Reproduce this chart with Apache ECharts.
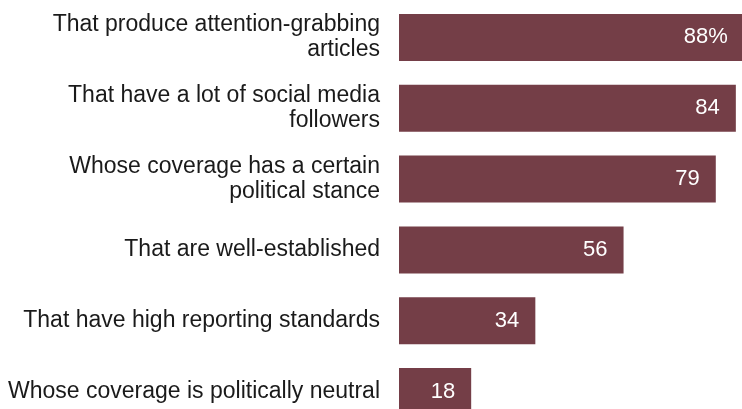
<!DOCTYPE html>
<html>
<head>
<meta charset="utf-8">
<script src="https://cdn.jsdelivr.net/npm/echarts@6/dist/echarts.min.js"></script>
<style>html,body{margin:0;padding:0;background:#fff}#c{width:742px;height:409px}</style>
</head>
<body>
<div id="c"></div>
<script>
const categories = [
  "That produce attention-grabbing\narticles",
  "That have a lot of social media\nfollowers",
  "Whose coverage has a certain\npolitical stance",
  "That are well-established",
  "That have high reporting standards",
  "Whose coverage is politically neutral"
];
const values = [88, 84, 79, 56, 34, 18];
const valueLabels = ["88%", "84", "79", "56", "34", "18"];

const chart = echarts.init(document.getElementById('c'));
chart.setOption({
  animation: false,
  grid: { left: 399, width: 401, top: 2, height: 425, containLabel: false, outerBoundsMode: 'none' },
  xAxis: { type: 'value', min: 0, max: 100, show: false },
  yAxis: {
    type: 'category', data: categories, inverse: true,
    axisLine: { show: false }, axisTick: { show: false },
    axisLabel: { margin: 19, color: '#1a1a1a', fontSize: 23, lineHeight: 25,
      fontFamily: 'Liberation Sans, Arial, sans-serif', align: 'right' }
  },
  series: [{
    type: 'bar',
    data: values.map((v, i) => i === 0 ? { value: v, label: { offset: [-8, 0] } } : v),
    barWidth: 47,
    itemStyle: { color: '#743e47' },
    clip: false,
    label: {
      show: true, position: 'insideRight', distance: 16,
      color: '#ffffff', fontSize: 22, fontFamily: 'Liberation Sans, Arial, sans-serif',
      formatter: p => valueLabels[p.dataIndex]
    }
  }]
});
</script>
</body>
</html>
